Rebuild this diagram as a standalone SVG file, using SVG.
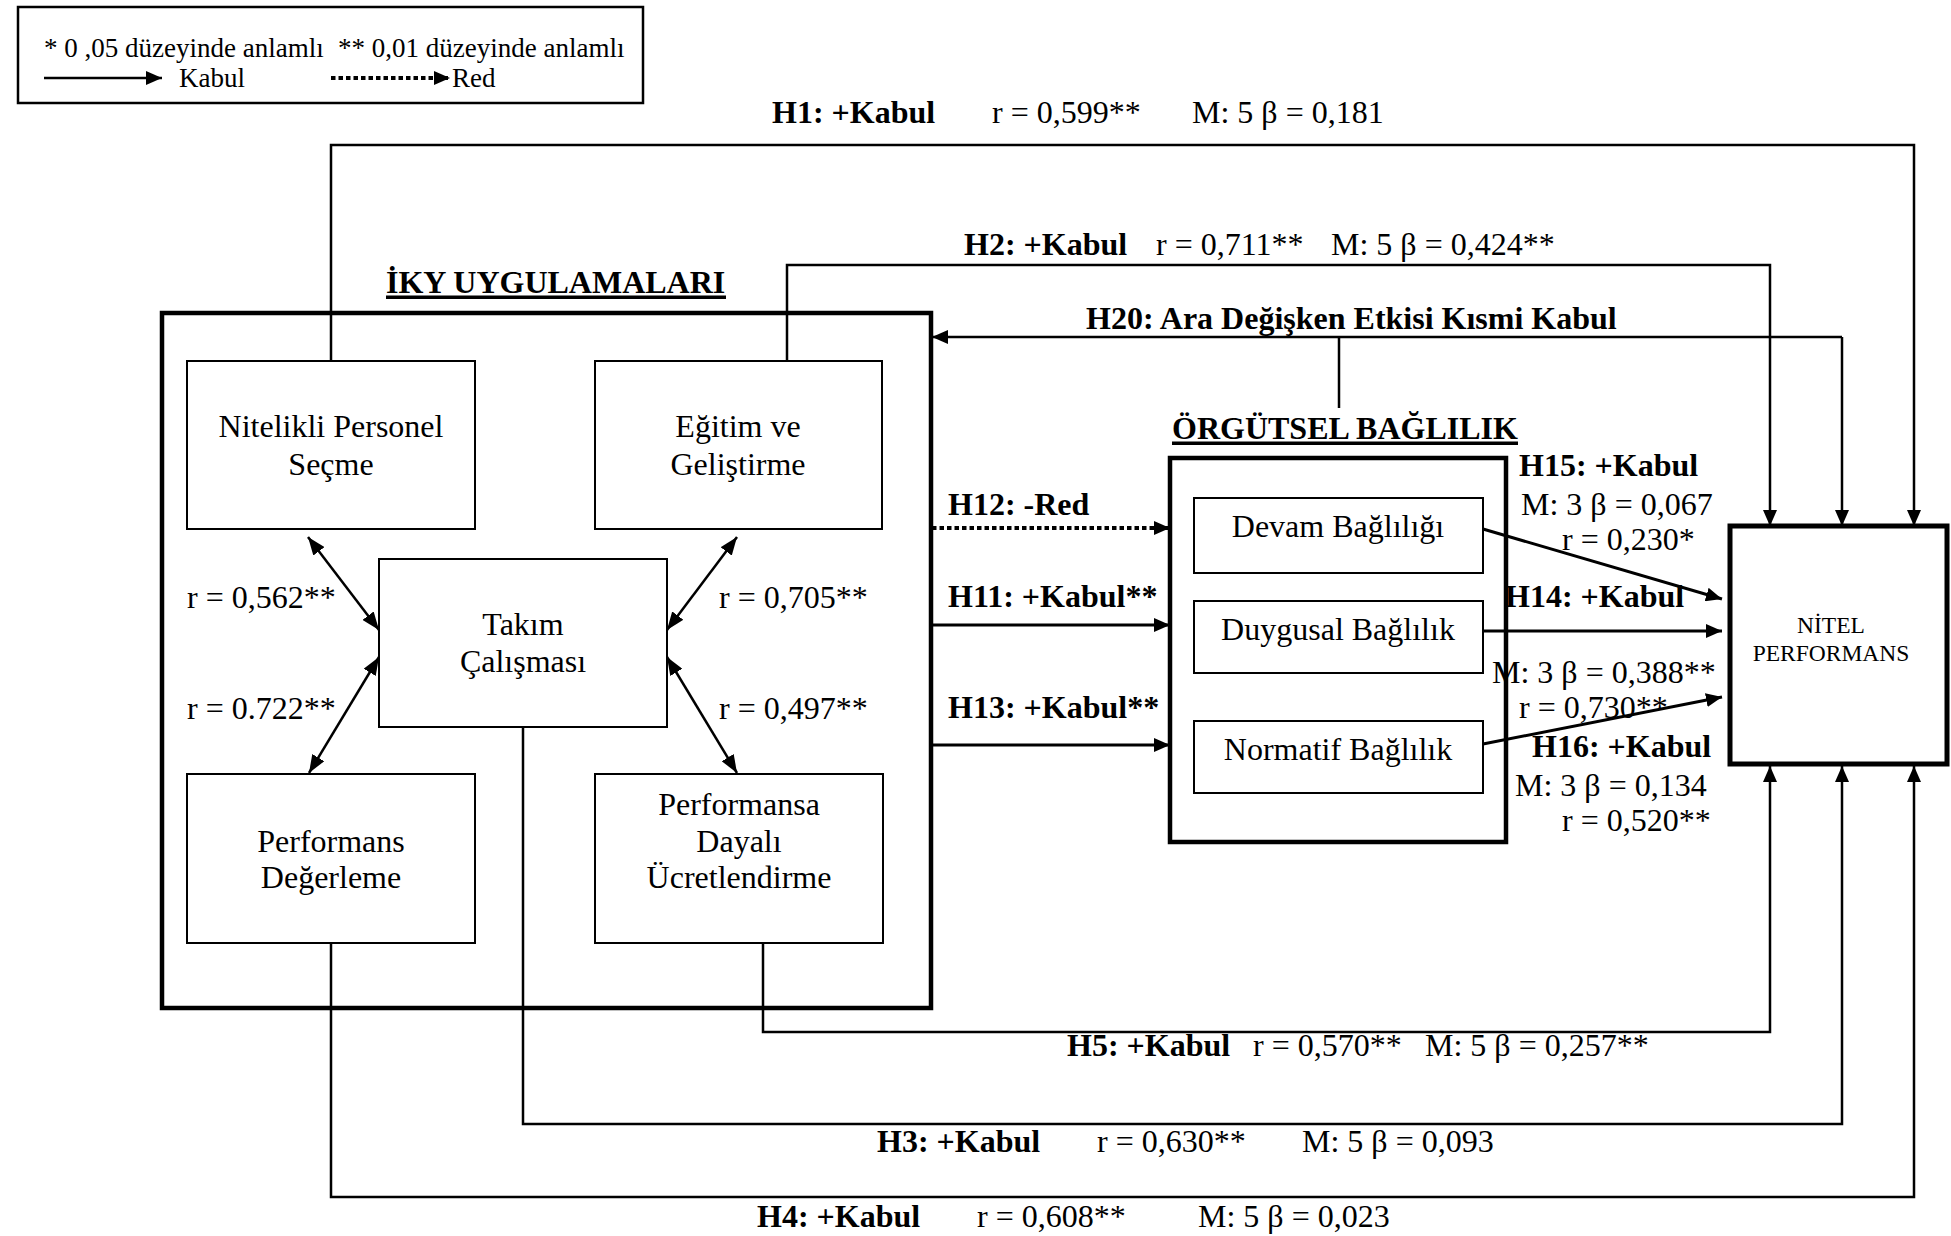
<svg xmlns="http://www.w3.org/2000/svg" width="1951" height="1236" viewBox="0 0 1951 1236">
  <defs>
    <style>
      .t { font-family: "Liberation Serif", "Times New Roman", serif; font-size: 32px; fill: #000; }
      .b { font-weight: bold; }
      .c { text-anchor: middle; }
      .leg { font-size: 27px; }
      .small { font-size: 23.5px; }
      .box { fill: #fff; stroke: #000; stroke-width: 2; }
      .frame { fill: none; stroke: #000; stroke-width: 4.5; }
      .ln { fill: none; stroke: #000; stroke-width: 2.5; }
      .thick { stroke-width: 3; }
      .dot { stroke-dasharray: 4.5 3; stroke-width: 4; }
    </style>
    <marker id="ah" markerUnits="userSpaceOnUse" markerWidth="16" markerHeight="14" refX="16" refY="7" orient="auto">
      <path d="M0,0 L16,7 L0,14 z" fill="#000"/>
    </marker>
    <marker id="ah2" markerUnits="userSpaceOnUse" markerWidth="18" markerHeight="14" refX="18" refY="7" orient="auto-start-reverse">
      <path d="M0,0 L18,7 L0,14 z" fill="#000"/>
    </marker>
  </defs>

  <rect width="1951" height="1236" fill="#fff"/>

  <!-- legend -->
  <g id="legend">
    <rect x="18" y="7" width="625" height="96" fill="#fff" stroke="#000" stroke-width="2.5"/>
    <text class="t leg" x="44" y="57">* 0 ,05 düzeyinde anlamlı</text>
    <text class="t leg" x="338" y="57">** 0,01 düzeyinde anlamlı</text>
    <line class="ln" x1="44" y1="78" x2="162" y2="78" stroke-width="3" marker-end="url(#ah)"/>
    <text class="t leg" x="179" y="87">Kabul</text>
    <line class="ln dot" x1="331" y1="78" x2="450" y2="78" marker-end="url(#ah)"/>
    <text class="t leg" x="452" y="87">Red</text>
  </g>

  <!-- HRM practices frame -->
  <g id="iky">
    <rect class="frame" x="162" y="313" width="769" height="695"/>
    <text class="t b" x="386" y="293">İKY UYGULAMALARI</text>
    <rect x="386" y="295.5" width="340" height="3.5" fill="#000"/>
  </g>

  <g id="nitelikli">
    <rect class="box" x="187" y="361" width="288" height="168"/>
    <text class="t c" x="331" y="437">Nitelikli Personel</text>
    <text class="t c" x="331" y="475">Seçme</text>
  </g>

  <g id="egitim">
    <rect class="box" x="595" y="361" width="287" height="168"/>
    <text class="t c" x="738" y="437">Eğitim ve</text>
    <text class="t c" x="738" y="475">Geliştirme</text>
  </g>

  <g id="takim">
    <rect class="box" x="379" y="559" width="288" height="168"/>
    <text class="t c" x="523" y="635">Takım</text>
    <text class="t c" x="523" y="672">Çalışması</text>
  </g>

  <g id="degerleme">
    <rect class="box" x="187" y="774" width="288" height="169"/>
    <text class="t c" x="331" y="852">Performans</text>
    <text class="t c" x="331" y="888">Değerleme</text>
  </g>

  <g id="ucret">
    <rect class="box" x="595" y="774" width="288" height="169"/>
    <text class="t c" x="739" y="815">Performansa</text>
    <text class="t c" x="739" y="852">Dayalı</text>
    <text class="t c" x="739" y="888">Ücretlendirme</text>
  </g>

  <!-- organisational commitment frame -->
  <g id="orgutsel">
    <rect class="frame" x="1170" y="458" width="336" height="384"/>
    <text class="t b" x="1172" y="439">ÖRGÜTSEL BAĞLILIK</text>
    <rect x="1172" y="441.5" width="346" height="3.5" fill="#000"/>
  </g>

  <g id="devam">
    <rect class="box" x="1194" y="498" width="289" height="75"/>
    <text class="t c" x="1338" y="537">Devam Bağlılığı</text>
  </g>

  <g id="duygusal">
    <rect class="box" x="1194" y="601" width="289" height="72"/>
    <text class="t c" x="1338" y="640">Duygusal Bağlılık</text>
  </g>

  <g id="normatif">
    <rect class="box" x="1194" y="721" width="289" height="72"/>
    <text class="t c" x="1338" y="760">Normatif Bağlılık</text>
  </g>

  <g id="nitel">
    <rect x="1730" y="526" width="217" height="238" fill="#fff" stroke="#000" stroke-width="5"/>
    <text class="t small c" x="1831" y="633">NİTEL</text>
    <text class="t small c" x="1831" y="661">PERFORMANS</text>
  </g>

  <!-- connectors -->
  <g id="connectors">
    <!-- H1, H2 over the top -->
    <path class="ln" d="M331,361 V145 H1914 V526" marker-end="url(#ah)"/>
    <path class="ln" d="M787,361 V265 H1770 V526" marker-end="url(#ah)"/>
    <!-- H20 mediation -->
    <path class="ln" d="M1842,337 H932" marker-end="url(#ah)"/>
    <path class="ln" d="M1842,337 V526" marker-end="url(#ah)"/>
    <path class="ln" d="M1339,337 V408"/>
    <!-- H5, H3, H4 along the bottom -->
    <path class="ln" d="M763,943 V1032 H1770 V766" marker-end="url(#ah)"/>
    <path class="ln" d="M523,727 V1124 H1842 V766" marker-end="url(#ah)"/>
    <path class="ln" d="M331,943 V1197 H1914 V766" marker-end="url(#ah)"/>
    <!-- H11-H13 into the commitment frame -->
    <path class="ln dot" d="M932,528 H1170" marker-end="url(#ah)"/>
    <path class="ln thick" d="M932,625 H1170" marker-end="url(#ah)"/>
    <path class="ln thick" d="M932,745 H1170" marker-end="url(#ah)"/>
    <!-- H14-H16 into quality performance -->
    <path class="ln thick" d="M1483,529 L1722,599" marker-end="url(#ah)"/>
    <path class="ln thick" d="M1483,631 L1722,631" marker-end="url(#ah)"/>
    <path class="ln thick" d="M1483,744 L1722,697" marker-end="url(#ah)"/>
    <!-- correlations with team work -->
    <path class="ln" d="M308,537 L379,630" marker-start="url(#ah2)" marker-end="url(#ah2)"/>
    <path class="ln" d="M737,537 L667,630" marker-start="url(#ah2)" marker-end="url(#ah2)"/>
    <path class="ln" d="M379,657 L309,773" marker-start="url(#ah2)" marker-end="url(#ah2)"/>
    <path class="ln" d="M667,657 L737,773" marker-start="url(#ah2)" marker-end="url(#ah2)"/>
  </g>

  <!-- connector labels -->
  <g id="labels">
    <text class="t b" x="772" y="123">H1: +Kabul</text>
    <text class="t" x="992" y="123">r = 0,599**</text>
    <text class="t" x="1192" y="123">M: 5 β = 0,181</text>

    <text class="t b" x="964" y="255">H2: +Kabul</text>
    <text class="t" x="1156" y="255">r = 0,711**</text>
    <text class="t" x="1331" y="255">M: 5 β = 0,424**</text>

    <text class="t b" x="1086" y="329">H20: Ara Değişken Etkisi Kısmi Kabul</text>

    <text class="t" x="187" y="608">r = 0,562**</text>
    <text class="t" x="719" y="608">r = 0,705**</text>
    <text class="t" x="187" y="719">r = 0.722**</text>
    <text class="t" x="719" y="719">r = 0,497**</text>

    <text class="t b" x="948" y="515">H12: -Red</text>
    <text class="t b" x="948" y="607">H11: +Kabul**</text>
    <text class="t b" x="948" y="718">H13: +Kabul**</text>

    <text class="t b" x="1519" y="476">H15: +Kabul</text>
    <text class="t" x="1521" y="515">M: 3 β = 0,067</text>
    <text class="t" x="1562" y="550">r = 0,230*</text>
    <text class="t b" x="1505" y="607">H14: +Kabul</text>
    <text class="t" x="1492" y="683">M: 3 β = 0,388**</text>
    <text class="t" x="1519" y="718">r = 0,730**</text>
    <text class="t b" x="1532" y="757">H16: +Kabul</text>
    <text class="t" x="1515" y="796">M: 3 β = 0,134</text>
    <text class="t" x="1562" y="831">r = 0,520**</text>

    <text class="t b" x="1067" y="1056">H5: +Kabul</text>
    <text class="t" x="1253" y="1056">r = 0,570**</text>
    <text class="t" x="1425" y="1056">M: 5 β = 0,257**</text>

    <text class="t b" x="877" y="1152">H3: +Kabul</text>
    <text class="t" x="1097" y="1152">r = 0,630**</text>
    <text class="t" x="1302" y="1152">M: 5 β = 0,093</text>

    <text class="t b" x="757" y="1227">H4: +Kabul</text>
    <text class="t" x="977" y="1227">r = 0,608**</text>
    <text class="t" x="1198" y="1227">M: 5 β = 0,023</text>
  </g>
</svg>
